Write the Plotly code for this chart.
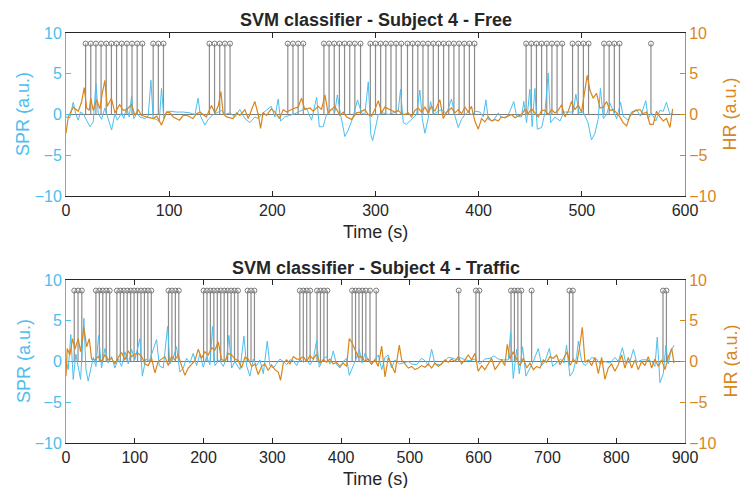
import plotly.graph_objects as go

# ---------------- data ----------------
TOP_TITLE = "SVM classifier - Subject 4 - Free"
BOT_TITLE = "SVM classifier - Subject 4 - Traffic"
X_LABEL = "Time (s)"
Y_LEFT_LABEL = "SPR (a.u.)"
Y_RIGHT_LABEL = "HR (a.u.)"

X_TICKS_TOP = [0, 100, 200, 300, 400, 500, 600]
X_TICKS_BOT = [0, 100, 200, 300, 400, 500, 600, 700, 800, 900]
Y_TICKS = [-10, -5, 0, 5, 10]

TOP_SPR_T = [0,3.8,7,9.6,11.9,14,16.7,20,23.2,26.4,29,31.2,34.5,37.7,40.9,44.2,47.4,49.7,53.9,56,
             58.7,61.3,63.5,65.8,69,71.6,76.5,79.7,82.3,84.5,87.8,90.4,92.6,94.9,97.5,100.7,107,113.6,120,125,
             128,130.4,134.6,137.8,142.7,145.9,150.8,154,158.9,163.7,168.5,173.4,178.3,183,186.3,191,194.4,199,202.5,205.7,
             208,212,217,221.9,226.7,230,233,238,243,245.5,249.3,252.5,257.4,260.6,263,266,270.3,273.6,277.8,282.6,
             286.5,289.7,293,295.5,297.2,299.4,302.7,307.5,312.3,317.2,322,324.3,326.9,330,334.9,339.8,343,345.3,347.9,351,
             353.4,356,360.8,364,368.9,373.7,377,380.2,383.4,386.7,389.9,393,397.3,401.2,404.4,407,409.3,414,419,422,
             427,430,434,436.8,441.5,443.8,446.4,449.6,451.9,454.5,456.8,461,464.2,467.4,469.7,473.9,478.8,482.6,486.8,491.6,
             494.2,497.4,501.3,506,509.3,512.5,515.8,518,520.8,524,527.2,530.4,533.7,537.6,540,545,548,553,556.9,562,
             564.3,567.5,571.7,575.7,578.9,582,585.4,588.6]
TOP_SPR_V = [-0.3,-0.4,1.5,0.0,-0.7,0.3,0.1,-0.8,-1.5,-0.9,3.8,0.2,-0.6,0.8,-0.5,-1.9,0.1,-0.7,0.2,-0.5,
             0.9,-0.3,2.2,-0.5,0.2,-0.3,-0.5,-0.2,4.2,-0.5,-0.6,-0.9,3.2,-0.5,0.3,0.4,0.3,0.3,0.2,0.0,
             2.0,-0.2,-1.3,-0.6,0.0,0.2,0.5,0.0,0.2,-0.3,0.6,-0.5,-1.0,-0.3,-0.5,0.2,0.5,1.0,-0.3,1.9,
             -0.8,-0.3,-0.1,0.1,0.4,0.6,0.8,-0.7,2.1,-1.5,-1.5,0.0,0.7,0.3,2.4,0.1,-2.7,-1.9,-0.5,1.8,
             0.2,0.0,4.0,-2.5,-3.2,-2.0,0.0,0.2,0.0,0.2,0.4,3.1,-1.0,-1.2,-0.6,0.0,3.0,-0.5,-2.3,-0.5,
             1.6,0.0,0.4,0.6,0.1,1.9,-0.2,-1.6,-0.6,0.0,0.3,0.0,0.4,0.3,-0.3,1.8,-0.6,-0.8,0.2,-0.4,
             -0.3,0.3,1.6,-0.2,-0.3,1.6,-1.0,3.1,-1.5,3.2,-1.8,-1.6,0.2,5.1,-1.0,-0.3,-0.8,0.3,0.3,0.3,
             2.5,0.2,0.3,-1.0,-3.1,-2.4,-0.6,3.2,-0.5,0.0,1.4,0.5,-0.5,1.5,-0.2,-0.7,0.3,0.6,-0.2,1.7,
             -0.5,0.2,-0.8,0.5,0.4,1.5,0.0,0.2]

TOP_HR_T = [0,2.2,7,11.9,15,17.7,20,22.5,24,26.4,29.6,32.9,35,37.7,40,44,47.4,52,55.5,58.7,
            63.5,66.8,70,73,78,84.5,88,92.6,97.5,100.7,104,110,113.6,116.9,123,126.6,129.8,136,141,144.3,
            147.5,150.1,152.4,155.6,162,165.3,168.5,173.4,176.6,183,186.3,188.6,191,194.4,199,202.5,207,210.6,213.8,220,
            225,228.3,231.5,236.4,239.6,244.5,247.7,251,254,257.4,260.6,265.5,268.7,272,276.8,281.6,285,289.7,293,
            296,299.4,302.7,305.9,309,312.3,315.6,318.8,322,325.3,328.5,331.7,335,338.2,341.4,344.6,347.9,351,354.3,357.6,
            362.4,365.7,368.9,373.7,377,380.2,383.4,386.7,389.9,393,396.3,399.6,402.8,406,409.3,412.5,415.7,419,422,425.4,
            428.6,431.9,435,438.4,441.5,444.8,448,451.3,454.5,457.7,461,464.2,467.4,470.7,473.9,477,480.4,483.6,486.8,490,
            493.3,496.5,499.7,503,505.2,507.8,511,514.3,517.5,520.8,524,527.2,530.4,533.7,536.9,540,543.4,546.6,549.8,553,
            556.3,559.5,562.7,566,569.2,572.4,575.7,578.9,582,585.4,588]
TOP_HR_V = [-2.3,-0.3,0.9,0.4,1.5,3.3,0.8,0.5,2.0,0.5,1.8,0.7,2.5,4.2,1.0,2.0,0.2,1.2,0.5,0.6,
            1.2,-0.1,0.6,-0.1,-0.3,-0.5,-0.2,-1.3,0.3,0.2,-0.3,-0.7,-0.1,-0.1,-0.5,0.1,0.3,-0.3,1.1,0.2,
            1.0,2.8,0.1,-0.3,-0.5,0.2,-0.1,0.6,-0.5,1.6,0.0,-1.7,0.2,-0.1,0.7,0.3,-0.5,0.6,0.3,0.7,
            0.9,2.0,0.6,0.8,0.4,1.0,0.6,2.4,0.2,0.6,1.0,-0.1,0.3,-0.3,-0.6,0.2,0.3,0.6,0.0,
            -0.2,0.6,1.7,0.2,0.9,0.7,0.5,0.3,0.5,0.1,0.0,0.2,-0.3,0.5,0.8,0.3,0.9,0.2,1.0,0.4,
            1.8,-0.5,0.3,0.8,0.2,0.6,0.1,0.9,0.3,1.0,-0.8,-1.8,-0.5,-0.9,-0.3,-0.8,-0.6,-0.8,-0.3,-0.4,
            -0.2,0.0,-0.4,-0.2,0.0,0.6,0.1,0.7,0.2,-0.3,0.5,0.5,0.0,0.6,0.2,0.5,1.2,-0.3,0.4,1.6,
            0.6,1.2,0.3,3.2,4.8,3.0,2.0,2.6,0.8,0.9,1.6,0.5,0.6,0.2,-0.3,-1.0,-1.4,-0.2,0.3,0.5,
            0.6,0.1,0.3,-1.2,-1.2,0.4,-0.3,-0.8,-0.5,-1.6,0.7]

BOT_SPR_T = [0,3.2,7,10.5,14.4,17.8,21.2,26,29,32.3,35.7,39.6,43.5,47.4,51.7,56.6,61.4,66.3,71,76,
             80.8,85.7,90.5,95.3,100,107.5,111,116,121,126.8,131.7,135.6,141.4,147.7,151,156,160.8,165.6,170.5,175.3,
             180,185,189.9,194.7,199.6,204.4,209.3,213,216.5,222.8,228.6,233.5,236.9,240.8,245.6,253,258.7,262.6,267.4,272.3,
             277,282,286.9,292.6,296.5,301.4,306.2,311,316,320.8,325.7,330.5,335.4,340,345,349.8,354.7,359.5,364.4,368.2,
             374,378.9,383.8,388.6,393.4,398.3,403,408,411.9,416.7,421.6,426.4,430.3,434.7,439.5,
             444.4,449.2,454,459,463.8,468.6,473.4,478.3,484.6,490.4,497.7,502.6,509.9,517,522,526.8,531.6,536.4,543.7,551,
             555.8,563,568,572.7,580,587.3,594.6,601.8,609,616.4,622.3,628.5,635.8,643,646.4,650.3,655.2,659,663.9,668.7,
             673.6,679.4,686.7,691.6,696.4,702.7,707.6,713.4,719.2,724,727.8,732.7,737.6,742.4,745,749.7,754.6,759.4,764.3,771.6,
             776.4,783.7,791,798,803,809,814.2,820,825,829.8,837,844,851.5,856.3,859.7,863.6,868.4,872.3,875.7,879.6,884]
BOT_SPR_V = [0.3,-1.0,3.3,-2.2,0.9,-0.6,-2.2,5.3,-1.0,-2.4,-1.0,0.5,-0.6,3.2,-0.8,1.6,-0.2,0.6,-0.8,0.3,
             -0.6,1.2,-0.3,1.5,0.2,2.8,-1.8,0.3,0.0,1.6,2.7,-0.5,-0.8,4.3,-0.3,0.5,1.8,-1.3,-0.8,0.4,
             -0.2,1.0,-0.5,0.9,-0.7,0.6,-0.4,4.3,-0.5,0.2,-0.6,0.4,3.2,-0.8,0.0,-1.0,3.1,-0.5,-1.8,0.3,
             -0.5,0.2,-1.5,2.5,-0.5,-0.8,-0.3,0.3,0.0,-0.4,0.2,0.1,-0.5,0.3,-0.1,0.2,-0.4,0.2,2.6,-0.7,
             0.3,0.6,-0.3,1.3,-0.4,-0.8,0.0,0.4,-1.7,-0.8,0.3,1.5,-0.2,1.0,0.2,
             -0.4,0.3,0.8,-1.0,0.5,0.8,-0.8,0.2,-0.3,-0.2,0.0,-0.3,-0.4,0.4,0.1,-0.5,1.5,-0.3,-0.4,0.1,
             0.5,0.4,0.2,0.5,0.2,0.1,0.3,-0.3,0.3,0.4,0.7,0.3,0.2,0.2,3.6,-2.1,1.5,-1.5,1.8,-1.8,
             -1.0,0.0,1.6,-0.5,0.0,1.6,-0.6,-0.1,0.3,-0.2,2.0,-1.8,-1.2,0.6,2.5,0.0,-0.5,-0.1,0.5,0.3,
             -0.3,0.0,-0.2,0.5,0.0,1.7,-0.3,0.0,1.5,-0.1,0.2,0.2,0.0,-0.6,3.0,-2.6,-1.5,2.0,-0.3,1.3,2.0]

BOT_HR_T = [0,1.8,5.7,9.5,12.9,17.8,21.2,26,30,33.8,37.2,42,46.9,51.7,56.6,61.4,66.3,71,76,80.8,
            85.7,90.5,95.3,100,105,110,114.7,119.6,124.4,129.3,134,139,143.8,148.7,153.5,158.4,163,168,172.9,177.7,
            182.6,187.4,192.3,197,202,206.8,211.7,216.5,221.4,226,231,236,240.8,245.6,250.5,255.3,260,265,270,274.7,
            279.5,284.4,289.2,294,298.9,303.8,308.6,312,315.9,320.8,325.7,330.5,335.4,340,345,349.8,354.7,359.5,364.4,369.2,
            374,378.9,383.8,388.6,393.4,398.3,403,408,411.9,415.3,420,425,429.8,434.7,439.5,
            444.4,449.2,454,459,463.8,468.6,473.4,478.3,484.6,488,492.8,497.7,502.6,507.4,512.3,517,522,526.8,531.6,536.4,
            541.3,546,551,555.8,560.6,565.5,570.4,575.2,580,584.9,589.7,594.6,599.4,604.3,609,613.9,618.8,623.7,628.5,633.4,
            638,641.6,645.5,650.3,655.2,660,665,669.8,674.6,679.5,684.3,689.2,694,698.8,703.7,708.5,713.4,718.2,723,728.9,
            732.8,737.6,742.5,746.3,750.7,754.6,759.4,764.3,769,774,778.8,783.6,788.4,793.3,798,803,807.9,812.7,817.6,822.4,
            827.3,832,837,841.8,846.6,851.5,856.3,861.2,866,870.9,875.7,880.6,884]
BOT_HR_V = [-1.8,1.6,0.8,2.8,1.5,2.8,1.2,4.2,1.8,2.8,0.3,0.2,0.6,0.0,0.8,0.2,0.4,-0.3,0.5,1.1,
            0.2,1.3,0.6,0.9,1.0,0.6,-0.3,-0.5,0.4,-1.4,0.0,0.3,0.6,-0.5,0.6,0.2,0.8,-0.5,-1.7,-0.8,
            -0.3,0.1,1.5,0.4,1.2,0.8,1.7,1.4,2.4,0.3,0.0,1.0,0.8,0.3,0.1,-0.8,0.5,0.3,-0.6,-0.3,
            -1.6,-0.6,-0.3,-1.1,-0.4,-1.0,-1.3,-2.3,-0.2,0.2,-0.3,0.6,0.3,0.3,0.6,0.0,0.7,0.3,0.9,-0.2,
            0.2,-0.1,0.3,-0.3,-0.1,-0.6,-0.2,-0.6,2.8,2.4,1.5,0.5,0.6,0.0,0.3,
            -0.3,0.2,-0.6,1.9,-1.9,0.5,-0.5,-1.4,2.0,0.2,-0.3,-0.8,-0.6,-1.0,-0.8,-0.5,-0.7,-0.3,-0.8,-0.2,
            -0.6,-0.3,0.2,-0.1,0.3,0.0,0.6,-0.3,0.2,0.8,0.2,1.0,-1.2,-0.5,-1.0,-0.2,0.4,-1.0,-0.4,0.2,
            -0.5,2.1,0.3,1.2,0.3,-0.5,0.4,-0.8,-0.2,-1.0,-0.6,-0.8,0.2,-0.1,0.6,0.4,0.8,-0.4,0.3,1.2,
            -0.5,0.3,-0.3,1.5,4.2,-0.1,0.2,-0.5,0.5,-1.5,0.5,-2.2,-0.8,-0.3,-1.2,-0.4,0.8,-0.8,0.5,-0.8,
            0.2,-1.0,0.0,-0.5,0.6,-0.8,0.3,-0.6,0.2,-1.0,0.5,1.6,-0.2]

TOP_EVENTS = [19,24,29,34,39,44,49,54,59,64,69,74,84.5,89.5,94.5,139,144,149,154,159,
              215,220,225,230,250,255,260,265,270,275,280,285.5,
              295,300,305,310,315,320,325,331,336,341,346,351,356,361,366,371,376,381,386,391,396,
              446,451,456,461,466,471,476,481,491,496.5,501.5,506.5,521.5,526.5,531.5,536.5,567]
BOT_EVENTS = [12,17.5,23,43.5,48.5,53.5,58.5,63.5,74,79,84,89,94,99,104,109,114,119,124,
              149,154,159,164,200,205,210,215,220,225,230,235,240,245,250,264,269,274,
              340,345,350,355,365,370,375,380,416,421,426,431,436,442,451,
              571,596,601,647,652,657,662,677,732,737,868,873]
EVENT_LEVEL = 8.7

# ---------------- style ----------------
W, H = 740, 488
PL, PR, PT, PB = 66, 685, 33, 443
BLUE = "#4DBEEE"
ORANGE = "#D9861C"
DARK = "#262626"
STEM = "#8c8c8c"
FONT = "Liberation Sans, Arial, Helvetica, sans-serif"


def py2paper(py):
    return (PB - py) / (PB - PT)


def px2paper(px):
    return (px - PL) / (PR - PL)


fig = go.Figure()


def stems(events, xa, ya):
    xs, ys = [], []
    for t in events:
        xs += [t, t, None]
        ys += [0, EVENT_LEVEL, None]
    fig.add_trace(go.Scatter(x=xs, y=ys, mode="lines", xaxis=xa, yaxis=ya,
                             line=dict(color=STEM, width=1.2), hoverinfo="skip",
                             showlegend=False))
    fig.add_trace(go.Scatter(x=events, y=[EVENT_LEVEL] * len(events), mode="markers",
                             xaxis=xa, yaxis=ya, showlegend=False,
                             marker=dict(symbol="circle-open", size=5,
                                         color="#7a7a7a", line=dict(width=1))))


# top panel
stems(TOP_EVENTS, "x", "y")
fig.add_trace(go.Scatter(x=TOP_SPR_T, y=TOP_SPR_V, mode="lines", xaxis="x", yaxis="y",
                         line=dict(color=BLUE, width=1), showlegend=False))
fig.add_trace(go.Scatter(x=TOP_HR_T, y=TOP_HR_V, mode="lines", xaxis="x", yaxis="y2",
                         line=dict(color=ORANGE, width=1.2), showlegend=False))
# bottom panel
stems(BOT_EVENTS, "x2", "y3")
fig.add_trace(go.Scatter(x=BOT_SPR_T, y=BOT_SPR_V, mode="lines", xaxis="x2", yaxis="y3",
                         line=dict(color=BLUE, width=1), showlegend=False))
fig.add_trace(go.Scatter(x=BOT_HR_T, y=BOT_HR_V, mode="lines", xaxis="x2", yaxis="y4",
                         line=dict(color=ORANGE, width=1.2), showlegend=False))

top_dom = [py2paper(196), 1.0]
bot_dom = [0.0, py2paper(280)]

xcommon = dict(ticks="inside", ticklen=5, tickwidth=1, tickcolor=DARK, showline=True,
               linecolor=DARK, linewidth=1, mirror="ticks", showgrid=False, zeroline=False,
               tickfont=dict(size=16, color=DARK, family=FONT), domain=[0, 1])


def ycommon(color, side):
    return dict(ticks="inside", ticklen=5, tickwidth=1, tickcolor=color, showline=True,
                linecolor=color, linewidth=1, showgrid=False, zeroline=False,
                range=[-10, 10], tickvals=Y_TICKS, side=side,
                tickfont=dict(size=16, color=color, family=FONT))


fig.update_layout(
    width=W, height=H,
    margin=dict(l=PL, r=W - PR, t=PT, b=H - PB),
    paper_bgcolor="white", plot_bgcolor="white",
    font=dict(family=FONT, color=DARK),
    xaxis=dict(xcommon, range=[0, 600], tickvals=X_TICKS_TOP, anchor="y"),
    yaxis=dict(ycommon(BLUE, "left"), domain=top_dom, anchor="x"),
    yaxis2=dict(ycommon(ORANGE, "right"), overlaying="y", anchor="x"),
    xaxis2=dict(xcommon, range=[0, 900], tickvals=X_TICKS_BOT, anchor="y3"),
    yaxis3=dict(ycommon(BLUE, "left"), domain=bot_dom, anchor="x2"),
    yaxis4=dict(ycommon(ORANGE, "right"), overlaying="y3", anchor="x2"),
)

# zero baselines of the stem plots
for xr, yr, x1 in (("x", "y", 600), ("x2", "y3", 900)):
    fig.add_shape(type="line", xref=xr, yref=yr, x0=0, x1=x1, y0=0, y1=0,
                  line=dict(color="#7a7a7a", width=1), layer="below")

ann = []
# titles
for txt, py in ((TOP_TITLE, 20.5), (BOT_TITLE, 267.5)):
    ann.append(dict(text="<b>%s</b>" % txt, x=px2paper((PL + PR) / 2), y=py2paper(py),
                    xref="paper", yref="paper", xanchor="center", yanchor="middle",
                    showarrow=False, font=dict(size=18, color=DARK, family=FONT)))
# x labels
for py in (231.5, 478.5):
    ann.append(dict(text=X_LABEL, x=px2paper((PL + PR) / 2), y=py2paper(py),
                    xref="paper", yref="paper", xanchor="center", yanchor="middle",
                    showarrow=False, font=dict(size=18, color=DARK, family=FONT)))
# y labels
for cy in ((33 + 196) / 2, (280 + 443) / 2):
    ann.append(dict(text=Y_LEFT_LABEL, x=px2paper(23.5), y=py2paper(cy), textangle=-90,
                    xref="paper", yref="paper", xanchor="center", yanchor="middle",
                    showarrow=False, font=dict(size=18, color=BLUE, family=FONT)))
    ann.append(dict(text=Y_RIGHT_LABEL, x=px2paper(730), y=py2paper(cy), textangle=-90,
                    xref="paper", yref="paper", xanchor="center", yanchor="middle",
                    showarrow=False, font=dict(size=18, color=ORANGE, family=FONT)))
fig.update_layout(annotations=ann)

fig.write_html("out.html")
